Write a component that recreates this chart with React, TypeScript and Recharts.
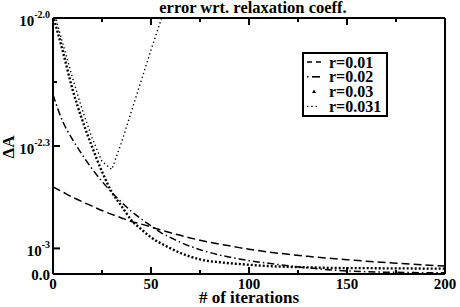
import React from 'react';
import { LineChart, Line, XAxis, YAxis, Legend } from 'recharts';

// iteration numbers shared by all series
const iterations = [0, 5, 10, 15, 20, 25, 30, 35, 40, 45, 50, 55, 60, 65, 70, 75, 80, 85, 90, 95, 100, 110, 120, 130, 140, 150, 160, 170, 180, 190, 200];

// ΔA in units of 1e-3
const r001 = [3.40, 3.20, 3.00, 2.82, 2.65, 2.48, 2.33, 2.19, 2.05, 1.95, 1.84, 1.72, 1.61, 1.51, 1.41, 1.32, 1.24, 1.17, 1.10, 1.03, 0.97, 0.86, 0.77, 0.69, 0.62, 0.56, 0.50, 0.45, 0.40, 0.35, 0.31];
const r002 = [7.00, 5.95, 5.25, 4.65, 4.10, 3.62, 3.18, 2.80, 2.45, 2.15, 1.88, 1.62, 1.42, 1.24, 1.08, 0.95, 0.84, 0.74, 0.66, 0.59, 0.52, 0.42, 0.32, 0.24, 0.17, 0.12, 0.09, 0.07, 0.06, 0.05, 0.05];
const r003 = [10.1, 8.7, 7.2, 6.0, 4.95, 4.0, 3.2, 2.65, 2.1, 1.75, 1.43, 1.2, 1.0, 0.82, 0.68, 0.57, 0.5, 0.46, 0.42, 0.39, 0.36, 0.31, 0.28, 0.26, 0.24, 0.23, 0.23, 0.22, 0.22, 0.21, 0.21];
const r0031 = [10.4, 9.0, 7.65, 6.4, 5.3, 4.4, 4.08, 5.15, 6.35, 7.55, 8.75, 9.9, 11.1, null, null, null, null, null, null, null, null, null, null, null, null, null, null, null, null, null, null];

const xTicks = [0, 25, 50, 75, 100, 125, 150, 175, 200];
const xMajor = [0, 50, 100, 150, 200];
const yTicks = [0, 1, 5, 7.5, 10];
const yLabels: Record<string, [string, string]> = {
  '0': ['0.0', ''],
  '1': ['10', '-3'],
  '5': ['10', '-2.3'],
  '10': ['10', '-2.0'],
};

const series = [
  { key: 'r001', name: 'r=0.01', dash: '8 4', width: 1.5, type: 'monotone' },
  { key: 'r002', name: 'r=0.02', dash: '7 3 1.5 3', width: 1.5, type: 'monotone' },
  { key: 'r003', name: 'r=0.03', dash: '2 2', width: 2.4, type: 'monotone' },
  { key: 'r0031', name: 'r=0.031', dash: '1.3 2.8', width: 1.4, type: 'linear' },
];

const data = iterations.map((it, i) => ({ it, r001: r001[i], r002: r002[i], r003: r003[i], r0031: r0031[i] }));

const FONT = 'Liberation Serif, Tinos, Times New Roman, DejaVu Serif, serif';
const txt = { fontFamily: FONT, fontWeight: 700 } as React.CSSProperties;

const BottomTick = ({ x, y, payload }: any) => {
  const major = xMajor.includes(payload.value);
  return (
    <g>
      <line x1={x} y1={y} x2={x} y2={y - (major ? 7 : 4)} stroke="#000" strokeWidth={2} />
      {major && (
        <text x={x} y={y + 15} textAnchor="middle" style={txt} fontSize={15} fill="#000">
          {payload.value}
        </text>
      )}
    </g>
  );
};

const TopTick = ({ x, y, payload }: any) => {
  const major = xMajor.includes(payload.value);
  return <line x1={x} y1={y} x2={x} y2={y + (major ? 7 : 4)} stroke="#000" strokeWidth={2} />;
};

const LeftTick = ({ x, y, payload }: any) => {
  const lab = yLabels[String(payload.value)];
  return (
    <g>
      <line x1={x} y1={y} x2={x + (lab ? 7 : 4)} y2={y} stroke="#000" strokeWidth={2} />
      {lab && (
        <text x={x - 3} y={y + (lab[1] ? 8 : 6)} textAnchor="end" style={txt} fontSize={15} fill="#000">
          {lab[0]}
          {lab[1] && (
            <tspan dy={-8} fontSize={10}>
              {lab[1]}
            </tspan>
          )}
        </text>
      )}
    </g>
  );
};

const RightTick = ({ x, y, payload }: any) => {
  const major = yLabels[String(payload.value)];
  return <line x1={x} y1={y} x2={x - (major ? 7 : 4)} y2={y} stroke="#000" strokeWidth={2} />;
};

const legendSymbol = (key: string, cy: number) => {
  if (key === 'r001') return <line x1={5} y1={cy} x2={19} y2={cy} stroke="#000" strokeWidth={1.6} strokeDasharray="5 4" />;
  if (key === 'r002')
    return (
      <g>
        <line x1={5} y1={cy} x2={6.5} y2={cy} stroke="#000" strokeWidth={1.6} />
        <line x1={10} y1={cy} x2={18} y2={cy} stroke="#000" strokeWidth={1.6} />
      </g>
    );
  if (key === 'r003') return <polygon points={`12,${cy - 2} 14,${cy + 1.5} 10,${cy + 1.5}`} fill="#000" />;
  return <line x1={5} y1={cy} x2={18} y2={cy} stroke="#000" strokeWidth={1.4} strokeDasharray="1.3 3" />;
};

const LegendBox = () => (
  <svg width={87} height={66} style={{ display: 'block' }}>
    <rect x={1} y={1} width={84} height={63} fill="#fff" stroke="#000" strokeWidth={2} />
    {series.map((s, i) => {
      const cy = 10 + i * 14.8;
      return (
        <g key={s.key}>
          {legendSymbol(s.key, cy)}
          <text x={27} y={cy + 5.5} style={txt} fontSize={16} fill="#000">
            {s.name}
          </text>
        </g>
      );
    })}
  </svg>
);

export default function App() {
  return (
    <div style={{ position: 'absolute', left: 0, top: 0, width: 460, height: 307, background: '#fff' }}>
      <LineChart width={460} height={307} data={data} margin={{ top: 17, right: 14, bottom: 32, left: 8 }}>
        <XAxis
          dataKey="it"
          type="number"
          domain={[0, 200]}
          ticks={xTicks}
          interval={0}
          height={1}
          tickSize={0}
          tickMargin={0}
          axisLine={{ stroke: '#000', strokeWidth: 2 }}
          tickLine={false}
          tick={(p: any) => <BottomTick {...p} />}
        />
        <XAxis
          xAxisId="top"
          orientation="top"
          dataKey="it"
          type="number"
          domain={[0, 200]}
          ticks={xTicks}
          interval={0}
          height={1}
          tickSize={0}
          tickMargin={0}
          axisLine={{ stroke: '#000', strokeWidth: 2 }}
          tickLine={false}
          tick={(p: any) => <TopTick {...p} />}
        />
        <YAxis
          type="number"
          domain={[0, 10]}
          allowDataOverflow
          ticks={yTicks}
          interval={0}
          width={45}
          tickSize={0}
          tickMargin={0}
          axisLine={{ stroke: '#000', strokeWidth: 2 }}
          tickLine={false}
          tick={(p: any) => <LeftTick {...p} />}
        />
        <YAxis
          yAxisId="right"
          orientation="right"
          type="number"
          domain={[0, 10]}
          ticks={yTicks}
          interval={0}
          width={1}
          tickSize={0}
          tickMargin={0}
          axisLine={{ stroke: '#000', strokeWidth: 2 }}
          tickLine={false}
          tick={(p: any) => <RightTick {...p} />}
        />
        <Legend
          layout="vertical"
          align="center"
          verticalAlign="middle"
          wrapperStyle={{ left: 302, top: 52, width: 'auto', height: 'auto' }}
          content={() => <LegendBox />}
        />
        {series.map((s) => (
          <Line
            key={s.key}
            dataKey={s.key}
            name={s.name}
            type={s.type as any}
            stroke="#000"
            strokeWidth={s.width}
            strokeDasharray={s.dash}
            dot={false}
            activeDot={false}
            isAnimationActive={false}
          />
        ))}
      </LineChart>
      <svg width={460} height={307} style={{ position: 'absolute', left: 0, top: 0, pointerEvents: 'none' }}>
        <text x={253} y={13} textAnchor="middle" style={txt} fontSize={16.5} fill="#000">
          error wrt. relaxation coeff.
        </text>
        <text x={249} y={303} textAnchor="middle" style={txt} fontSize={17} fill="#000">
          # of iterations
        </text>
        <text transform="translate(14,147) rotate(-90)" textAnchor="middle" style={txt} fontSize={17} fill="#000">
          ΔA
        </text>
      </svg>
    </div>
  );
}
